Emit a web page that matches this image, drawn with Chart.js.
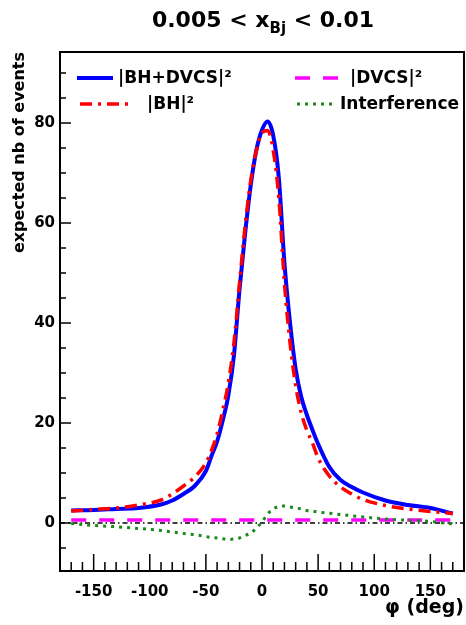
<!DOCTYPE html>
<html>
<head>
<meta charset="utf-8">
<script src="https://cdn.jsdelivr.net/npm/chart.js@4.4.1/dist/chart.umd.min.js"></script>
<style>
  html, body { margin: 0; padding: 0; background: #fff; overflow: hidden; }
  #wrap { position: relative; width: 466px; height: 625px; }
  #wrap canvas { display: block; }
  #title { position: absolute; left: 60px; width: 406px; top: 9px; text-align: center;
           font: bold 22px "DejaVu Sans"; line-height: 1; color: #000; }
  #title sub { font-size: 15px; vertical-align: -6px; line-height: 0; }
</style>
</head>
<body>
<div id="wrap">
  <canvas id="xbjChart"></canvas>
  <div id="title">0.005 &lt; x<sub>Bj</sub> &lt; 0.01</div>
</div>
<script>
// phi bins (deg) and expected nb of events
const phi = [-170, -150, -130, -110, -90, -80, -70, -60, -50, -45, -40, -35, -30, -25, -20, -15, -10, -5,
             0, 5, 10, 15, 20, 25, 30, 35, 40, 45, 50, 60, 70, 80, 90, 110, 130, 150, 170]
const bhDvcs = [2.5, 2.6, 2.8, 3.0, 3.7, 4.5, 5.8, 7.4, 10.4, 13.4, 16.3, 20.5, 25.5, 33.5, 46.8, 58.0, 67.6, 74.6,
                78.6, 80.3, 77.5, 69.0, 52.0, 40.0, 30.8, 25.2, 21.6, 18.6, 15.8, 11.2, 8.6, 7.2, 6.1, 4.5, 3.6, 3.0, 1.9]
const bhOnly = [2.4, 2.7, 3.0, 3.6, 4.6, 5.8, 7.4, 9.2, 12.0, 14.5, 17.8, 22.5, 28.0, 36.0, 48.0, 59.5, 68.5, 74.5,
                78.0, 78.5, 74.5, 65.0, 48.0, 36.0, 27.5, 22.0, 18.5, 16.0, 13.0, 9.4, 7.2, 5.8, 4.7, 3.5, 2.8, 2.3, 1.9]
const dvcsOnly = [0.6, 0.6, 0.6, 0.6, 0.6, 0.6, 0.6, 0.6, 0.6, 0.6, 0.6, 0.6, 0.6, 0.6, 0.6, 0.6, 0.6, 0.6,
                  0.6, 0.6, 0.6, 0.6, 0.6, 0.6, 0.6, 0.6, 0.6, 0.6, 0.6, 0.6, 0.6, 0.6, 0.6, 0.6, 0.6, 0.6, 0.6]
const interference = [-0.1, -0.5, -0.75, -1.1, -1.5, -1.8, -2.1, -2.35, -2.7, -2.9, -3.0, -3.15, -3.3, -3.2, -3.0, -2.5, -2.0, -1.0,
                      0.2, 1.8, 2.8, 3.3, 3.4, 3.2, 3.0, 2.8, 2.5, 2.35, 2.2, 1.95, 1.7, 1.45, 1.2, 0.8, 0.55, 0.3, -0.2]

const xLabelTicks = [-150, -100, -50, 0, 50, 100, 150]
const yLabelTicks = [0, 20, 40, 60, 80]

const pts = ys => phi.map((p, i) => ({x: p, y: ys[i]}))

Chart.defaults.font.family = '"DejaVu Sans"'
Chart.defaults.font.weight = 'bold'
Chart.defaults.color = '#000'

// ROOT style frame, inner ticks, zero line and in-pad legend
const rootFrame = {
  id: 'rootFrame',
  beforeDatasetsDraw(chart) {
    const {ctx, chartArea: a, scales: {y}} = chart
    const y0 = y.getPixelForValue(0)
    ctx.save()
    ctx.strokeStyle = '#000'
    ctx.lineWidth = 1.3
    ctx.setLineDash([5, 3, 1.5, 3])
    ctx.beginPath()
    ctx.moveTo(a.left, y0)
    ctx.lineTo(a.right, y0)
    ctx.stroke()
    ctx.restore()
  },
  afterDraw(chart) {
    const {ctx, chartArea: a, scales: {x, y}} = chart
    ctx.save()
    ctx.strokeStyle = '#000'
    ctx.lineWidth = 2
    ctx.strokeRect(a.left, a.top, a.right - a.left, a.bottom - a.top)

    ctx.lineWidth = 1.5
    ctx.beginPath()
    x.ticks.forEach(t => {
      if (Math.abs(t.value % 10) > 1e-6) return
      const px = x.getPixelForValue(t.value)
      const len = t.value % 50 === 0 ? 17 : 9
      ctx.moveTo(px, a.bottom)
      ctx.lineTo(px, a.bottom - len)
    })
    y.ticks.forEach(t => {
      if (Math.abs(t.value % 5) > 1e-6) return
      const py = y.getPixelForValue(t.value)
      const len = t.value % 20 === 0 ? 11 : 6
      ctx.moveTo(a.left, py)
      ctx.lineTo(a.left + len, py)
    })
    ctx.stroke()

    // legend, two columns inside the pad
    const slots = [
      {ds: 0, x1: 17, x2: 53, tx: 58, y: 26},
      {ds: 1, x1: 235, x2: 280, tx: 290, y: 26},
      {ds: 2, x1: 20, x2: 70, tx: 87, y: 52},
      {ds: 3, x1: 237, x2: 272, tx: 280, y: 52}
    ]
    ctx.font = 'bold 17px "DejaVu Sans"'
    ctx.textBaseline = 'middle'
    ctx.textAlign = 'left'
    slots.forEach(s => {
      const d = chart.data.datasets[s.ds]
      const ly = a.top + s.y
      ctx.strokeStyle = d.borderColor
      ctx.lineWidth = d.borderWidth
      ctx.setLineDash(d.borderDash || [])
      ctx.beginPath()
      ctx.moveTo(a.left + s.x1, ly)
      ctx.lineTo(a.left + s.x2, ly)
      ctx.stroke()
      ctx.setLineDash([])
      ctx.fillStyle = '#000'
      ctx.fillText(d.label, a.left + s.tx, ly + 1)
    })
    ctx.restore()
  }
}

new Chart(document.getElementById('xbjChart'), {
  type: 'line',
  data: {
    datasets: [
      {label: '|BH+DVCS|²', data: pts(bhDvcs), borderColor: '#0000ff', borderWidth: 4, order: 4},
      {label: '|DVCS|²', data: pts(dvcsOnly), borderColor: '#ff00ff', borderWidth: 3.5, borderDash: [15, 13], order: 3},
      {label: '|BH|²', data: pts(bhOnly), borderColor: '#ff0000', borderWidth: 3.5, borderDash: [12, 6, 3, 6], order: 2},
      {label: 'Interference', data: pts(interference), borderColor: '#1b8a1b', borderWidth: 3, borderDash: [3, 5], order: 1}
    ]
  },
  options: {
    responsive: true,
    maintainAspectRatio: false,
    animation: false,
    layout: {padding: {top: 52, right: 2, left: 0, bottom: 0}},
    elements: {point: {radius: 0}, line: {cubicInterpolationMode: 'monotone', fill: false}},
    plugins: {legend: {display: false}, tooltip: {enabled: false}},
    scales: {
      x: {
        type: 'linear',
        min: -180,
        max: 180,
        grid: {display: false, drawTicks: false},
        border: {display: false},
        afterFit: s => { s.height = 54; s.paddingLeft = 0; s.paddingRight = 0 },
        ticks: {
          stepSize: 10,
          autoSkip: false,
          maxRotation: 0,
          padding: 12,
          font: {size: 15, weight: 'bold'},
          callback: v => xLabelTicks.includes(v) ? String(v) : ''
        },
        title: {display: true, text: 'φ (deg)', align: 'end', font: {size: 19, weight: 'bold'}, padding: {top: 0, bottom: 6}}
      },
      y: {
        min: -9.6,
        max: 94.2,
        grid: {display: false, drawTicks: false},
        border: {display: false},
        afterFit: s => { s.width = 60 },
        ticks: {
          stepSize: 5,
          autoSkip: false,
          padding: 5,
          font: {size: 15, weight: 'bold'},
          callback: v => yLabelTicks.includes(v) ? String(v) : ''
        },
        title: {display: true, text: 'expected nb of events', align: 'end', font: {size: 16, weight: 'bold'}, padding: {top: 10, bottom: 0}}
      }
    }
  },
  plugins: [rootFrame]
})
</script>
</body>
</html>
